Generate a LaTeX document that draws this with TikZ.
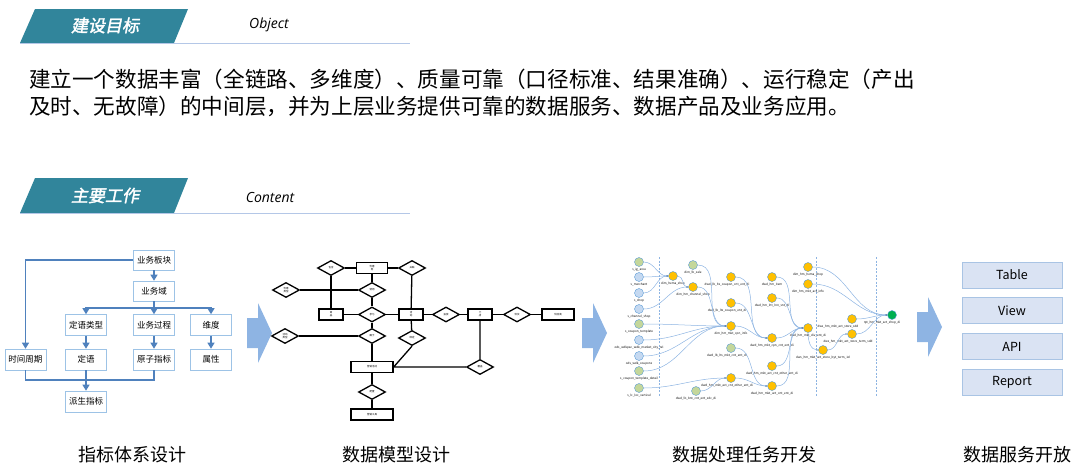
\documentclass[tikz,border=0pt]{standalone}
\usepackage{fontspec}
\setmainfont{Noto Sans CJK SC}
\newfontfamily\latinfont{Open Sans}
\newfontfamily\hdfont[FakeSlant=0.2,FakeBold=2]{Noto Sans CJK SC}
\usetikzlibrary{positioning,shapes.geometric,arrows.meta}

\definecolor{hdteal}{RGB}{49,133,155}
\definecolor{rulebl}{RGB}{180,199,231}
\definecolor{flowbl}{RGB}{79,129,189}
\definecolor{boxbl}{RGB}{157,195,230}
\definecolor{bigarr}{RGB}{142,180,227}
\definecolor{svcfill}{RGB}{218,227,243}
\definecolor{svcline}{RGB}{169,196,228}
\definecolor{srcgreen}{RGB}{196,215,155}
\definecolor{srcblue}{RGB}{197,217,241}
\definecolor{midorange}{RGB}{255,192,0}
\definecolor{rptgreen}{RGB}{0,176,80}
\definecolor{dagline}{RGB}{141,180,226}
\definecolor{nodeline}{RGB}{91,155,213}

\begin{document}
\begin{tikzpicture}[
    x=1pt,y=-1pt,
    hdr/.style={fill=hdteal},
    hdtxt/.style={text=white,font=\hdfont\fontsize{17}{20}\selectfont},
    en/.style={font=\latinfont\itshape\fontsize{14}{16}\selectfont},
    fbox/.style={draw=boxbl,line width=0.6pt,minimum width=41pt,minimum height=21pt,inner sep=0pt,font=\fontsize{8.5}{10}\selectfont},
    flw/.style={draw=flowbl,line width=1.2pt,-{Triangle[width=7pt,length=6pt]}},
    fln/.style={draw=flowbl,line width=1.2pt},
    ent/.style={draw,line width=1.3pt,minimum width=24pt,minimum height=11pt,inner sep=0pt,font=\fontsize{2.5}{3}\selectfont,align=center},
    rel/.style={draw,diamond,line width=1.3pt,minimum width=27pt,minimum height=15pt,inner sep=0pt,font=\fontsize{2.5}{3}\selectfont,align=center},
    erl/.style={line width=1.3pt},
    dn/.style={circle,draw=nodeline,line width=0.4pt,minimum size=9pt,inner sep=0pt},
    src/.style={dn,fill=srcblue},
    srg/.style={dn,fill=srcgreen},
    mid/.style={dn,fill=midorange},
    rpt/.style={dn,fill=rptgreen},
    lbl/.style={font=\fontsize{3}{3.5}\selectfont,inner sep=0.8pt},
    dag/.style={draw=dagline,line width=0.5pt,-{Stealth[length=2.2pt,width=1.8pt]}},
    sep/.style={draw=dagline,dash pattern=on 2pt off 1.5pt,line width=0.5pt},
    svc/.style={draw=svcline,fill=svcfill,line width=0.8pt,minimum width=100pt,minimum height=26pt,font=\fontsize{12.5}{14}\selectfont},
    big/.style={fill=bigarr},
    caption/.style={font=\fontsize{18}{20}\selectfont},
]
    \useasboundingbox (0,0) rectangle (1080,472);

    % headers
    \fill[hdr] (20,43) -- (35,9) -- (188,9) -- (174,43) -- cycle;
    \draw[rulebl,line width=1.2pt] (20,43.5) -- (410,43.5);
    \node[hdtxt] (h1) at (105,25.5) {建设目标};
    \node[en] (h1en) at (269,25) {Object};

    \fill[hdr] (20,213) -- (35,178) -- (188,178) -- (174,213) -- cycle;
    \draw[rulebl,line width=1.2pt] (20,213.5) -- (410,213.5);
    \node[hdtxt] (h2) at (105,195.5) {主要工作};
    \node[en] (h2en) at (270,197) {Content};

    \node[anchor=west,align=left,inner sep=0pt,font=\fontsize{21.6}{27}\selectfont] (goal) at (29,92.5)
        {建立一个数据丰富（全链路、多维度）、质量可靠（口径标准、结果准确）、运行稳定（产出\\及时、无故障）的中间层，并为上层业务提供可靠的数据服务、数据产品及业务应用。};

    % indicator system
    \node[fbox,minimum height=20pt] (bk) at (154,260) {业务板块};
    \node[fbox,minimum height=20pt] (ywy) at (154,291) {业务域};
    \node[fbox] (dylx) at (86,325) {定语类型};
    \node[fbox] (ywgc) at (154,325) {业务过程};
    \node[fbox] (wd) at (211,325) {维度};
    \node[fbox] (sjzq) at (25.5,359.5) {时间周期};
    \node[fbox] (dy) at (86,359.5) {定语};
    \node[fbox] (yzzb) at (154,359.5) {原子指标};
    \node[fbox] (sx) at (211,359.5) {属性};
    \node[fbox] (pszb) at (86,401.5) {派生指标};
    \coordinate (fk) at (154,308);
    \coordinate (mg) at (86,380);

    \draw[flw] (bk.west) -| (sjzq.north);
    \draw[flw] (bk) -- (ywy);
    \draw[fln] (ywy) -- (fk);
    \draw[flw] (fk) -| (dylx.north);
    \draw[flw] (fk) -- (ywgc);
    \draw[flw] (fk) -| (wd.north);
    \draw[flw] (dylx) -- (dy);
    \draw[flw] (ywgc) -- (yzzb);
    \draw[flw] (wd) -- (sx);
    \draw[fln] (sjzq.south) |- (mg) -| (yzzb.south);
    \draw[flw] (dy) -- (pszb);

    % big arrows
    \foreach \ax/\ay in {247/333,582/333,917/327}
        \fill[big] (\ax,\ay-15) -- (\ax+11,\ay-15) -- (\ax+11,\ay-30) -- (\ax+25,\ay)
            -- (\ax+11,\ay+30) -- (\ax+11,\ay+15) -- (\ax,\ay+15) -- cycle;

    % data model
    \node[ent,minimum width=31pt] (yhq) at (372,268) {优惠\\券};
    \node[ent] (sp) at (331,314.5) {商\\品};
    \node[ent] (hd) at (411,314.5) {活\\动};
    \node[ent] (md) at (480,314.5) {门\\店};
    \node[ent,minimum width=32pt] (gys) at (558,314.5) {供应商};
    \node[ent,minimum width=42pt] (yxhd) at (372,367) {营销活动};
    \node[ent,minimum width=42pt] (yxgj) at (372,414.5) {营销工具};
    \node[rel] (r1) at (331,268) {包含};
    \node[rel] (r2) at (412,268) {关联};
    \node[rel] (r3) at (286,290) {优惠\\类型};
    \node[rel] (r4) at (372,290) {使用};
    \node[rel] (r5) at (372,314.5) {参与};
    \node[rel] (r6) at (446,314.5) {投放};
    \node[rel] (r7) at (517,314.5) {供货};
    \node[rel] (r8) at (285,336) {活动\\类型};
    \node[rel] (r9) at (372,336) {属于};
    \node[rel] (r10) at (412,338) {绑定};
    \node[rel] (r11) at (480,367) {覆盖};
    \node[rel] (r12) at (372,392) {配置};

    \draw[erl] (r1) -- (yhq) -- (r2);
    \draw[erl] (r1) -- (sp);
    \draw[erl] (yhq) -- (r4);
    \draw[erl] (r3) -- (r4) -- (r5) -- (r9) -- (yxhd) -- (r12) -- (yxgj);
    \draw[erl] (sp) -- (r5) -- (hd) -- (r6) -- (md) -- (r7) -- (gys);
    \draw[erl] (r2) -- (hd) -- (r10);
    \draw[erl] (r8) -- (r9);
    \draw[erl] (r10.south) -- (yxhd.east) -- (r11) -- (md);

    % task dag
    \draw[sep] (659,257) -- (659,397);
    \draw[sep] (816,257) -- (816,397);
    \draw[sep] (876,257) -- (876,397);

    \node[srg,label={[lbl]below:s\_ig\_area}] (sig) at (639,262) {};
    \node[src,label={[lbl]below:s\_merchant}] (smer) at (639,277) {};
    \node[src,label={[lbl]below:s\_shop}] (sshop) at (639,293) {};
    \node[src,label={[lbl]below:s\_channel\_shop}] (schs) at (639,309) {};
    \node[srg,label={[lbl]below:s\_coupon\_template}] (sct) at (639,324) {};
    \node[src,label={[lbl]below:ods\_wdkpac\_wdk\_market\_city\_rel}] (omc) at (639,340) {};
    \node[src,label={[lbl]below:ods\_wdk\_coupons}] (owc) at (639,356) {};
    \node[srg,label={[lbl]below:s\_coupon\_template\_detail}] (sctd) at (639,371) {};
    \node[srg,label={[lbl]below:s\_lc\_loc\_vertical}] (slv) at (639,388) {};

    \node[mid,label={[lbl]below:dim\_hema\_shop}] (dhs) at (673,276) {};
    \node[srg,label={[lbl]below:dim\_lb\_sale}] (dls) at (693,265) {};
    \node[mid,label={[lbl]below:dim\_hm\_channel\_shop}] (dhcs) at (693,287) {};

    \node[mid,label={[lbl,xshift=-4pt]below:dwd\_lb\_lts\_coupon\_cnt\_ent\_di}] (dlcc) at (731,277) {};
    \node[mid,label={[lbl,xshift=-4pt]below:dwd\_lb\_lts\_coupon\_ent\_di}] (dlce) at (731,303) {};
    \node[mid,label={[lbl]below:dim\_hm\_mkt\_cpn\_info}] (dmci) at (731,326) {};
    \node[srg,label={[lbl,xshift=-4pt]below:dwd\_lb\_lts\_mkt\_cnt\_ent\_di}] (dlmc) at (731,348) {};
    \node[mid,label={[lbl,xshift=-4pt]below:dwd\_hm\_mkt\_act\_cnt\_other\_ent\_di}] (dmao) at (731,378) {};
    \node[srg,label={[lbl]below:dwd\_lb\_bnt\_cnt\_ent\_sdc\_di}] (dlbs) at (696,391) {};

    \node[mid,label={[lbl]below:dwd\_hm\_item}] (dhi) at (772,277) {};
    \node[mid,label={[lbl]below:dwd\_hm\_lnt\_lnn\_snt\_di}] (dhl) at (772,298) {};
    \node[mid,label={[lbl]below:dwd\_hm\_mkt\_cpn\_cnt\_ent\_di}] (dmcc) at (772,338) {};
    \node[mid,label={[lbl]below:dwd\_hm\_mkt\_act\_cnt\_other\_ent\_di}] (dmaco) at (772,366) {};
    \node[mid,label={[lbl]below:dwd\_hm\_mkt\_act\_cnt\_ent\_di}] (dmac) at (772,386) {};

    \node[mid,label={[lbl]below:dim\_hm\_hema\_shop}] (dhhs) at (808,267) {};
    \node[mid,label={[lbl]below:dim\_hm\_mkt\_act\_info}] (dmai) at (808,284) {};
    \node[mid,label={[lbl]below:dwd\_hm\_mkt\_div\_ent\_di}] (dmde) at (808,328) {};

    \node[mid,label={[lbl]below:dws\_hm\_mkt\_act\_store\_byt\_term\_1d}] (wbt) at (823,350) {};
    \node[mid,label={[lbl,xshift=-14pt]below:dws\_hm\_mkt\_act\_store\_sdd}] (wss) at (852,319) {};
    \node[mid,label={[lbl,xshift=-4pt]below:dws\_hm\_mkt\_act\_store\_term\_sdd}] (wst) at (852,334) {};
    \node[rpt,label={[lbl,xshift=-10pt]below:rpt\_hm\_mkt\_act\_shop\_di}] (rpt) at (892,315) {};

    \draw[dag,out=0,in=180]
        (sig) edge (dhs) (smer) edge (dhs) (sshop) edge (dhs)
        (dhs) edge (dhcs) (schs) edge (dhcs)
        (dls) edge (dmci) (dhcs) edge (dmci) (sct) edge (dmci)
        (omc) edge (dmci) (owc) edge (dmci) (sctd) edge (dmci)
        (dlcc) edge (dmcc) (dlce) edge (dmcc) (dmci) edge (dmcc)
        (dlmc) edge (dmac) (slv) edge (dmao) (dlbs) edge (dmao) (dmao) edge (dmac)
        (dhi) edge (dmde) (dhl) edge (dmde) (dmcc) edge (dmde)
        (dmaco) edge (dmde) (dmac) edge (dmde)
        (dmde) edge[out=-90] (wbt) (wbt) edge (wst)
        (wst) edge (rpt) (wss) edge (rpt) (dhhs) edge (rpt) (dmai) edge (rpt)
    ;

    % services
    \node[svc] (tbl) at (1012,275) {Table};
    \node[svc,below=9pt of tbl] (view) {View};
    \node[svc,below=9pt of view] (api) {API};
    \node[svc,below=9pt of api] (rep) {Report};

    % captions
    \node[caption] (c1) at (132.5,455) {指标体系设计};
    \node[caption] (c2) at (396,455) {数据模型设计};
    \node[caption] (c3) at (744,455) {数据处理任务开发};
    \node[caption] (c4) at (1017,455) {数据服务开放};

\end{tikzpicture}
\end{document}
